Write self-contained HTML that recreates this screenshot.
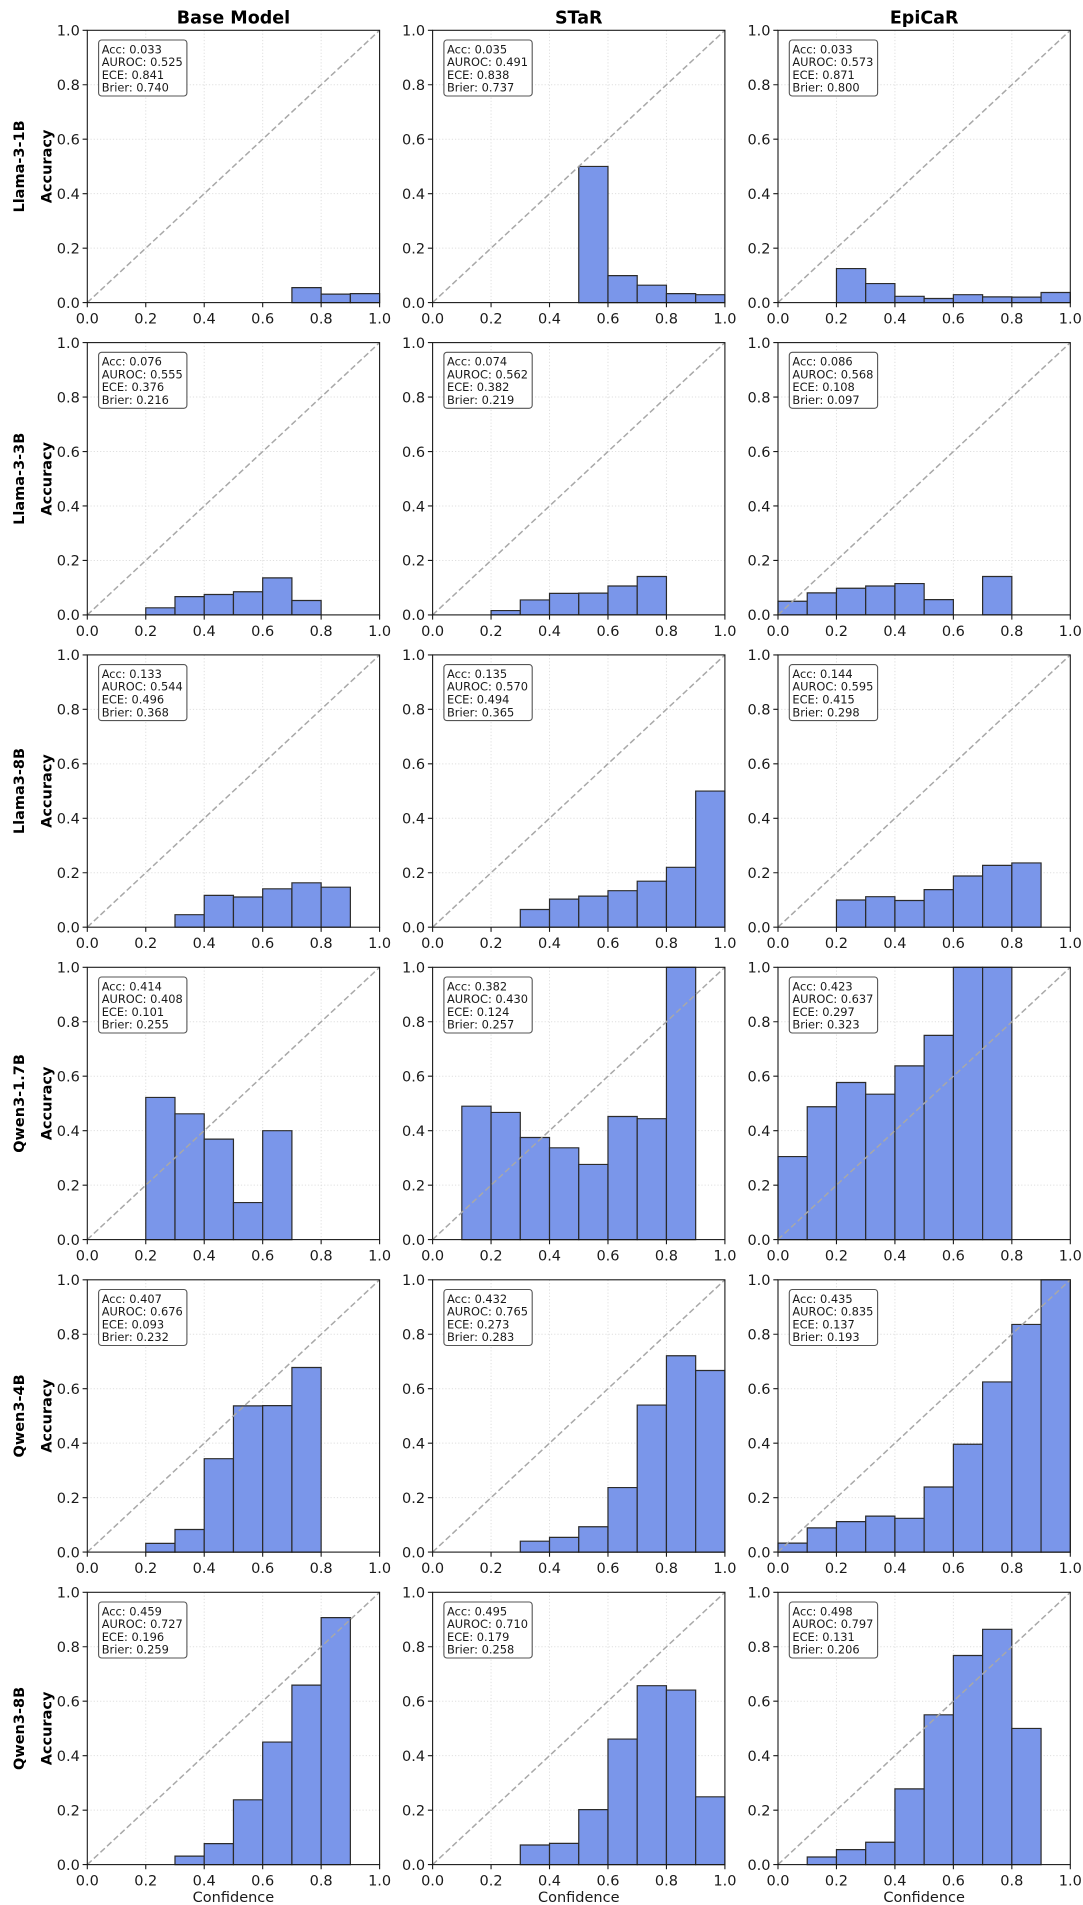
<!DOCTYPE html>
<html>
<head>
<meta charset="utf-8">
<style>
html,body{margin:0;padding:0;background:#fff;}
svg{display:block;font-family:"DejaVu Sans","Liberation Sans",sans-serif;}
.bars rect{fill:#7a96ea;stroke:#2b2b2b;stroke-width:1.2;vector-effect:non-scaling-stroke;}
.tk{font-size:14.5px;fill:#1a1a1a;}
.e{text-anchor:end;}
.m{text-anchor:middle;}
.an{font-size:11.4px;fill:#1a1a1a;}
.box{fill:#fff;stroke:#555;stroke-width:1.1;}
.ttl{font-size:17.5px;font-weight:bold;text-anchor:middle;fill:#000;}
.rl{font-size:14.5px;font-weight:bold;text-anchor:middle;fill:#000;}
.xl{font-size:14.5px;text-anchor:middle;fill:#1a1a1a;}
</style>
</head>
<body>
<svg width="1083" height="1905" viewBox="0 0 1083 1905" xmlns="http://www.w3.org/2000/svg">
<defs>
<g id="grid"><path d="M58.46 0V272.3M116.92 0V272.3M175.38 0V272.3M233.84 0V272.3M0 54.46H292.3M0 108.92H292.3M0 163.38H292.3M0 217.84H292.3" stroke="#b0b0b0" stroke-opacity=".4" stroke-width="1" stroke-dasharray="1.2,2" fill="none"/></g>
<g id="frame">
<path d="M0 272.3L292.3 0" stroke="#a8a8a8" stroke-width="1.5" stroke-dasharray="6,3" fill="none"/>
<rect width="292.3" height="272.3" fill="none" stroke="#1a1a1a" stroke-width="1.1"/>
<path d="M-4.7 0H0M-4.7 54.46H0M-4.7 108.92H0M-4.7 163.38H0M-4.7 217.84H0M-4.7 272.3H0M0 272.3V277M58.46 272.3V277M116.92 272.3V277M175.38 272.3V277M233.84 272.3V277M292.3 272.3V277" stroke="#1a1a1a" stroke-width="1.1" fill="none"/>
</g>
</defs>

<!-- Column titles -->
<text class="ttl" x="233.45" y="23.5">Base Model</text>
<text class="ttl" x="578.75" y="23.5">STaR</text>
<text class="ttl" x="924.15" y="23.5">EpiCaR</text>

<!-- Row labels -->
<text class="rl" transform="translate(24,166.45) rotate(-90)">Llama-3-1B</text>
<text class="rl" transform="translate(51.6,166.45) rotate(-90)">Accuracy</text>
<text class="rl" transform="translate(24,478.75) rotate(-90)">Llama-3-3B</text>
<text class="rl" transform="translate(51.6,478.75) rotate(-90)">Accuracy</text>
<text class="rl" transform="translate(24,791.05) rotate(-90)">Llama3-8B</text>
<text class="rl" transform="translate(51.6,791.05) rotate(-90)">Accuracy</text>
<text class="rl" transform="translate(24,1103.45) rotate(-90)">Qwen3-1.7B</text>
<text class="rl" transform="translate(51.6,1103.45) rotate(-90)">Accuracy</text>
<text class="rl" transform="translate(24,1415.95) rotate(-90)">Qwen3-4B</text>
<text class="rl" transform="translate(51.6,1415.95) rotate(-90)">Accuracy</text>
<text class="rl" transform="translate(24,1728.45) rotate(-90)">Qwen3-8B</text>
<text class="rl" transform="translate(51.6,1728.45) rotate(-90)">Accuracy</text>

<!-- Confidence labels -->
<text class="xl" x="233.45" y="1902">Confidence</text>
<text class="xl" x="578.75" y="1902">Confidence</text>
<text class="xl" x="924.15" y="1902">Confidence</text>

<!-- ===== Row 1 ===== -->
<g transform="translate(87.3,30.3)">
<use href="#grid"/>
<g class="bars" transform="translate(0,272.3) scale(29.23,-272.3)"><rect x="7" width="1" height=".055"/><rect x="8" width="1" height=".031"/><rect x="9" width="1" height=".033"/></g>
<use href="#frame"/>
<rect class="box" x="11.3" y="9.7" width="88.3" height="56" rx="3"/>
<text class="an" x="14.4" y="23">Acc: 0.033</text><text class="an" x="14.4" y="35.8">AUROC: 0.525</text><text class="an" x="14.4" y="48.6">ECE: 0.841</text><text class="an" x="14.4" y="61.4">Brier: 0.740</text>
<g class="tk"><text class="e" x="-7.5" y="277.6">0.0</text><text class="e" x="-7.5" y="223.1">0.2</text><text class="e" x="-7.5" y="168.7">0.4</text><text class="e" x="-7.5" y="114.2">0.6</text><text class="e" x="-7.5" y="59.8">0.8</text><text class="e" x="-7.5" y="5.3">1.0</text>
<text class="m" x="0" y="293.3">0.0</text><text class="m" x="58.46" y="293.3">0.2</text><text class="m" x="116.92" y="293.3">0.4</text><text class="m" x="175.38" y="293.3">0.6</text><text class="m" x="233.84" y="293.3">0.8</text><text class="m" x="292.3" y="293.3">1.0</text></g>
</g>

<g transform="translate(432.6,30.3)">
<use href="#grid"/>
<g class="bars" transform="translate(0,272.3) scale(29.23,-272.3)"><rect x="5" width="1" height=".5"/><rect x="6" width="1" height=".099"/><rect x="7" width="1" height=".064"/><rect x="8" width="1" height=".033"/><rect x="9" width="1" height=".029"/></g>
<use href="#frame"/>
<rect class="box" x="11.3" y="9.7" width="88.3" height="56" rx="3"/>
<text class="an" x="14.4" y="23">Acc: 0.035</text><text class="an" x="14.4" y="35.8">AUROC: 0.491</text><text class="an" x="14.4" y="48.6">ECE: 0.838</text><text class="an" x="14.4" y="61.4">Brier: 0.737</text>
<g class="tk"><text class="e" x="-7.5" y="277.6">0.0</text><text class="e" x="-7.5" y="223.1">0.2</text><text class="e" x="-7.5" y="168.7">0.4</text><text class="e" x="-7.5" y="114.2">0.6</text><text class="e" x="-7.5" y="59.8">0.8</text><text class="e" x="-7.5" y="5.3">1.0</text>
<text class="m" x="0" y="293.3">0.0</text><text class="m" x="58.46" y="293.3">0.2</text><text class="m" x="116.92" y="293.3">0.4</text><text class="m" x="175.38" y="293.3">0.6</text><text class="m" x="233.84" y="293.3">0.8</text><text class="m" x="292.3" y="293.3">1.0</text></g>
</g>

<g transform="translate(778,30.3)">
<use href="#grid"/>
<g class="bars" transform="translate(0,272.3) scale(29.23,-272.3)"><rect x="2" width="1" height=".125"/><rect x="3" width="1" height=".070"/><rect x="4" width="1" height=".023"/><rect x="5" width="1" height=".015"/><rect x="6" width="1" height=".029"/><rect x="7" width="1" height=".021"/><rect x="8" width="1" height=".020"/><rect x="9" width="1" height=".037"/></g>
<use href="#frame"/>
<rect class="box" x="11.3" y="9.7" width="88.3" height="56" rx="3"/>
<text class="an" x="14.4" y="23">Acc: 0.033</text><text class="an" x="14.4" y="35.8">AUROC: 0.573</text><text class="an" x="14.4" y="48.6">ECE: 0.871</text><text class="an" x="14.4" y="61.4">Brier: 0.800</text>
<g class="tk"><text class="e" x="-7.5" y="277.6">0.0</text><text class="e" x="-7.5" y="223.1">0.2</text><text class="e" x="-7.5" y="168.7">0.4</text><text class="e" x="-7.5" y="114.2">0.6</text><text class="e" x="-7.5" y="59.8">0.8</text><text class="e" x="-7.5" y="5.3">1.0</text>
<text class="m" x="0" y="293.3">0.0</text><text class="m" x="58.46" y="293.3">0.2</text><text class="m" x="116.92" y="293.3">0.4</text><text class="m" x="175.38" y="293.3">0.6</text><text class="m" x="233.84" y="293.3">0.8</text><text class="m" x="292.3" y="293.3">1.0</text></g>
</g>

<!-- ===== Row 2 ===== -->
<g transform="translate(87.3,342.6)">
<use href="#grid"/>
<g class="bars" transform="translate(0,272.3) scale(29.23,-272.3)"><rect x="2" width="1" height=".026"/><rect x="3" width="1" height=".067"/><rect x="4" width="1" height=".075"/><rect x="5" width="1" height=".085"/><rect x="6" width="1" height=".136"/><rect x="7" width="1" height=".053"/></g>
<use href="#frame"/>
<rect class="box" x="11.3" y="9.7" width="88.3" height="56" rx="3"/>
<text class="an" x="14.4" y="23">Acc: 0.076</text><text class="an" x="14.4" y="35.8">AUROC: 0.555</text><text class="an" x="14.4" y="48.6">ECE: 0.376</text><text class="an" x="14.4" y="61.4">Brier: 0.216</text>
<g class="tk"><text class="e" x="-7.5" y="277.6">0.0</text><text class="e" x="-7.5" y="223.1">0.2</text><text class="e" x="-7.5" y="168.7">0.4</text><text class="e" x="-7.5" y="114.2">0.6</text><text class="e" x="-7.5" y="59.8">0.8</text><text class="e" x="-7.5" y="5.3">1.0</text>
<text class="m" x="0" y="293.3">0.0</text><text class="m" x="58.46" y="293.3">0.2</text><text class="m" x="116.92" y="293.3">0.4</text><text class="m" x="175.38" y="293.3">0.6</text><text class="m" x="233.84" y="293.3">0.8</text><text class="m" x="292.3" y="293.3">1.0</text></g>
</g>

<g transform="translate(432.6,342.6)">
<use href="#grid"/>
<g class="bars" transform="translate(0,272.3) scale(29.23,-272.3)"><rect x="2" width="1" height=".016"/><rect x="3" width="1" height=".055"/><rect x="4" width="1" height=".079"/><rect x="5" width="1" height=".080"/><rect x="6" width="1" height=".106"/><rect x="7" width="1" height=".141"/></g>
<use href="#frame"/>
<rect class="box" x="11.3" y="9.7" width="88.3" height="56" rx="3"/>
<text class="an" x="14.4" y="23">Acc: 0.074</text><text class="an" x="14.4" y="35.8">AUROC: 0.562</text><text class="an" x="14.4" y="48.6">ECE: 0.382</text><text class="an" x="14.4" y="61.4">Brier: 0.219</text>
<g class="tk"><text class="e" x="-7.5" y="277.6">0.0</text><text class="e" x="-7.5" y="223.1">0.2</text><text class="e" x="-7.5" y="168.7">0.4</text><text class="e" x="-7.5" y="114.2">0.6</text><text class="e" x="-7.5" y="59.8">0.8</text><text class="e" x="-7.5" y="5.3">1.0</text>
<text class="m" x="0" y="293.3">0.0</text><text class="m" x="58.46" y="293.3">0.2</text><text class="m" x="116.92" y="293.3">0.4</text><text class="m" x="175.38" y="293.3">0.6</text><text class="m" x="233.84" y="293.3">0.8</text><text class="m" x="292.3" y="293.3">1.0</text></g>
</g>

<g transform="translate(778,342.6)">
<use href="#grid"/>
<g class="bars" transform="translate(0,272.3) scale(29.23,-272.3)"><rect x="0" width="1" height=".050"/><rect x="1" width="1" height=".081"/><rect x="2" width="1" height=".098"/><rect x="3" width="1" height=".106"/><rect x="4" width="1" height=".115"/><rect x="5" width="1" height=".056"/><rect x="7" width="1" height=".141"/></g>
<use href="#frame"/>
<rect class="box" x="11.3" y="9.7" width="88.3" height="56" rx="3"/>
<text class="an" x="14.4" y="23">Acc: 0.086</text><text class="an" x="14.4" y="35.8">AUROC: 0.568</text><text class="an" x="14.4" y="48.6">ECE: 0.108</text><text class="an" x="14.4" y="61.4">Brier: 0.097</text>
<g class="tk"><text class="e" x="-7.5" y="277.6">0.0</text><text class="e" x="-7.5" y="223.1">0.2</text><text class="e" x="-7.5" y="168.7">0.4</text><text class="e" x="-7.5" y="114.2">0.6</text><text class="e" x="-7.5" y="59.8">0.8</text><text class="e" x="-7.5" y="5.3">1.0</text>
<text class="m" x="0" y="293.3">0.0</text><text class="m" x="58.46" y="293.3">0.2</text><text class="m" x="116.92" y="293.3">0.4</text><text class="m" x="175.38" y="293.3">0.6</text><text class="m" x="233.84" y="293.3">0.8</text><text class="m" x="292.3" y="293.3">1.0</text></g>
</g>

<!-- ===== Row 3 ===== -->
<g transform="translate(87.3,654.9)">
<use href="#grid"/>
<g class="bars" transform="translate(0,272.3) scale(29.23,-272.3)"><rect x="3" width="1" height=".046"/><rect x="4" width="1" height=".117"/><rect x="5" width="1" height=".111"/><rect x="6" width="1" height=".141"/><rect x="7" width="1" height=".163"/><rect x="8" width="1" height=".147"/></g>
<use href="#frame"/>
<rect class="box" x="11.3" y="9.7" width="88.3" height="56" rx="3"/>
<text class="an" x="14.4" y="23">Acc: 0.133</text><text class="an" x="14.4" y="35.8">AUROC: 0.544</text><text class="an" x="14.4" y="48.6">ECE: 0.496</text><text class="an" x="14.4" y="61.4">Brier: 0.368</text>
<g class="tk"><text class="e" x="-7.5" y="277.6">0.0</text><text class="e" x="-7.5" y="223.1">0.2</text><text class="e" x="-7.5" y="168.7">0.4</text><text class="e" x="-7.5" y="114.2">0.6</text><text class="e" x="-7.5" y="59.8">0.8</text><text class="e" x="-7.5" y="5.3">1.0</text>
<text class="m" x="0" y="293.3">0.0</text><text class="m" x="58.46" y="293.3">0.2</text><text class="m" x="116.92" y="293.3">0.4</text><text class="m" x="175.38" y="293.3">0.6</text><text class="m" x="233.84" y="293.3">0.8</text><text class="m" x="292.3" y="293.3">1.0</text></g>
</g>

<g transform="translate(432.6,654.9)">
<use href="#grid"/>
<g class="bars" transform="translate(0,272.3) scale(29.23,-272.3)"><rect x="3" width="1" height=".065"/><rect x="4" width="1" height=".103"/><rect x="5" width="1" height=".114"/><rect x="6" width="1" height=".134"/><rect x="7" width="1" height=".169"/><rect x="8" width="1" height=".220"/><rect x="9" width="1" height=".5"/></g>
<use href="#frame"/>
<rect class="box" x="11.3" y="9.7" width="88.3" height="56" rx="3"/>
<text class="an" x="14.4" y="23">Acc: 0.135</text><text class="an" x="14.4" y="35.8">AUROC: 0.570</text><text class="an" x="14.4" y="48.6">ECE: 0.494</text><text class="an" x="14.4" y="61.4">Brier: 0.365</text>
<g class="tk"><text class="e" x="-7.5" y="277.6">0.0</text><text class="e" x="-7.5" y="223.1">0.2</text><text class="e" x="-7.5" y="168.7">0.4</text><text class="e" x="-7.5" y="114.2">0.6</text><text class="e" x="-7.5" y="59.8">0.8</text><text class="e" x="-7.5" y="5.3">1.0</text>
<text class="m" x="0" y="293.3">0.0</text><text class="m" x="58.46" y="293.3">0.2</text><text class="m" x="116.92" y="293.3">0.4</text><text class="m" x="175.38" y="293.3">0.6</text><text class="m" x="233.84" y="293.3">0.8</text><text class="m" x="292.3" y="293.3">1.0</text></g>
</g>

<g transform="translate(778,654.9)">
<use href="#grid"/>
<g class="bars" transform="translate(0,272.3) scale(29.23,-272.3)"><rect x="2" width="1" height=".100"/><rect x="3" width="1" height=".112"/><rect x="4" width="1" height=".098"/><rect x="5" width="1" height=".138"/><rect x="6" width="1" height=".188"/><rect x="7" width="1" height=".227"/><rect x="8" width="1" height=".236"/></g>
<use href="#frame"/>
<rect class="box" x="11.3" y="9.7" width="88.3" height="56" rx="3"/>
<text class="an" x="14.4" y="23">Acc: 0.144</text><text class="an" x="14.4" y="35.8">AUROC: 0.595</text><text class="an" x="14.4" y="48.6">ECE: 0.415</text><text class="an" x="14.4" y="61.4">Brier: 0.298</text>
<g class="tk"><text class="e" x="-7.5" y="277.6">0.0</text><text class="e" x="-7.5" y="223.1">0.2</text><text class="e" x="-7.5" y="168.7">0.4</text><text class="e" x="-7.5" y="114.2">0.6</text><text class="e" x="-7.5" y="59.8">0.8</text><text class="e" x="-7.5" y="5.3">1.0</text>
<text class="m" x="0" y="293.3">0.0</text><text class="m" x="58.46" y="293.3">0.2</text><text class="m" x="116.92" y="293.3">0.4</text><text class="m" x="175.38" y="293.3">0.6</text><text class="m" x="233.84" y="293.3">0.8</text><text class="m" x="292.3" y="293.3">1.0</text></g>
</g>

<!-- ===== Row 4 ===== -->
<g transform="translate(87.3,967.3)">
<use href="#grid"/>
<g class="bars" transform="translate(0,272.3) scale(29.23,-272.3)"><rect x="2" width="1" height=".522"/><rect x="3" width="1" height=".462"/><rect x="4" width="1" height=".369"/><rect x="5" width="1" height=".136"/><rect x="6" width="1" height=".4"/></g>
<use href="#frame"/>
<rect class="box" x="11.3" y="9.7" width="88.3" height="56" rx="3"/>
<text class="an" x="14.4" y="23">Acc: 0.414</text><text class="an" x="14.4" y="35.8">AUROC: 0.408</text><text class="an" x="14.4" y="48.6">ECE: 0.101</text><text class="an" x="14.4" y="61.4">Brier: 0.255</text>
<g class="tk"><text class="e" x="-7.5" y="277.6">0.0</text><text class="e" x="-7.5" y="223.1">0.2</text><text class="e" x="-7.5" y="168.7">0.4</text><text class="e" x="-7.5" y="114.2">0.6</text><text class="e" x="-7.5" y="59.8">0.8</text><text class="e" x="-7.5" y="5.3">1.0</text>
<text class="m" x="0" y="293.3">0.0</text><text class="m" x="58.46" y="293.3">0.2</text><text class="m" x="116.92" y="293.3">0.4</text><text class="m" x="175.38" y="293.3">0.6</text><text class="m" x="233.84" y="293.3">0.8</text><text class="m" x="292.3" y="293.3">1.0</text></g>
</g>

<g transform="translate(432.6,967.3)">
<use href="#grid"/>
<g class="bars" transform="translate(0,272.3) scale(29.23,-272.3)"><rect x="1" width="1" height=".490"/><rect x="2" width="1" height=".467"/><rect x="3" width="1" height=".375"/><rect x="4" width="1" height=".337"/><rect x="5" width="1" height=".276"/><rect x="6" width="1" height=".452"/><rect x="7" width="1" height=".444"/><rect x="8" width="1" height="1"/></g>
<use href="#frame"/>
<rect class="box" x="11.3" y="9.7" width="88.3" height="56" rx="3"/>
<text class="an" x="14.4" y="23">Acc: 0.382</text><text class="an" x="14.4" y="35.8">AUROC: 0.430</text><text class="an" x="14.4" y="48.6">ECE: 0.124</text><text class="an" x="14.4" y="61.4">Brier: 0.257</text>
<g class="tk"><text class="e" x="-7.5" y="277.6">0.0</text><text class="e" x="-7.5" y="223.1">0.2</text><text class="e" x="-7.5" y="168.7">0.4</text><text class="e" x="-7.5" y="114.2">0.6</text><text class="e" x="-7.5" y="59.8">0.8</text><text class="e" x="-7.5" y="5.3">1.0</text>
<text class="m" x="0" y="293.3">0.0</text><text class="m" x="58.46" y="293.3">0.2</text><text class="m" x="116.92" y="293.3">0.4</text><text class="m" x="175.38" y="293.3">0.6</text><text class="m" x="233.84" y="293.3">0.8</text><text class="m" x="292.3" y="293.3">1.0</text></g>
</g>

<g transform="translate(778,967.3)">
<use href="#grid"/>
<g class="bars" transform="translate(0,272.3) scale(29.23,-272.3)"><rect x="0" width="1" height=".305"/><rect x="1" width="1" height=".488"/><rect x="2" width="1" height=".577"/><rect x="3" width="1" height=".534"/><rect x="4" width="1" height=".638"/><rect x="5" width="1" height=".75"/><rect x="6" width="1" height="1"/><rect x="7" width="1" height="1"/></g>
<use href="#frame"/>
<rect class="box" x="11.3" y="9.7" width="88.3" height="56" rx="3"/>
<text class="an" x="14.4" y="23">Acc: 0.423</text><text class="an" x="14.4" y="35.8">AUROC: 0.637</text><text class="an" x="14.4" y="48.6">ECE: 0.297</text><text class="an" x="14.4" y="61.4">Brier: 0.323</text>
<g class="tk"><text class="e" x="-7.5" y="277.6">0.0</text><text class="e" x="-7.5" y="223.1">0.2</text><text class="e" x="-7.5" y="168.7">0.4</text><text class="e" x="-7.5" y="114.2">0.6</text><text class="e" x="-7.5" y="59.8">0.8</text><text class="e" x="-7.5" y="5.3">1.0</text>
<text class="m" x="0" y="293.3">0.0</text><text class="m" x="58.46" y="293.3">0.2</text><text class="m" x="116.92" y="293.3">0.4</text><text class="m" x="175.38" y="293.3">0.6</text><text class="m" x="233.84" y="293.3">0.8</text><text class="m" x="292.3" y="293.3">1.0</text></g>
</g>

<!-- ===== Row 5 ===== -->
<g transform="translate(87.3,1279.8)">
<use href="#grid"/>
<g class="bars" transform="translate(0,272.3) scale(29.23,-272.3)"><rect x="2" width="1" height=".032"/><rect x="3" width="1" height=".083"/><rect x="4" width="1" height=".343"/><rect x="5" width="1" height=".537"/><rect x="6" width="1" height=".538"/><rect x="7" width="1" height=".678"/></g>
<use href="#frame"/>
<rect class="box" x="11.3" y="9.7" width="88.3" height="56" rx="3"/>
<text class="an" x="14.4" y="23">Acc: 0.407</text><text class="an" x="14.4" y="35.8">AUROC: 0.676</text><text class="an" x="14.4" y="48.6">ECE: 0.093</text><text class="an" x="14.4" y="61.4">Brier: 0.232</text>
<g class="tk"><text class="e" x="-7.5" y="277.6">0.0</text><text class="e" x="-7.5" y="223.1">0.2</text><text class="e" x="-7.5" y="168.7">0.4</text><text class="e" x="-7.5" y="114.2">0.6</text><text class="e" x="-7.5" y="59.8">0.8</text><text class="e" x="-7.5" y="5.3">1.0</text>
<text class="m" x="0" y="293.3">0.0</text><text class="m" x="58.46" y="293.3">0.2</text><text class="m" x="116.92" y="293.3">0.4</text><text class="m" x="175.38" y="293.3">0.6</text><text class="m" x="233.84" y="293.3">0.8</text><text class="m" x="292.3" y="293.3">1.0</text></g>
</g>

<g transform="translate(432.6,1279.8)">
<use href="#grid"/>
<g class="bars" transform="translate(0,272.3) scale(29.23,-272.3)"><rect x="3" width="1" height=".040"/><rect x="4" width="1" height=".054"/><rect x="5" width="1" height=".093"/><rect x="6" width="1" height=".237"/><rect x="7" width="1" height=".540"/><rect x="8" width="1" height=".721"/><rect x="9" width="1" height=".667"/></g>
<use href="#frame"/>
<rect class="box" x="11.3" y="9.7" width="88.3" height="56" rx="3"/>
<text class="an" x="14.4" y="23">Acc: 0.432</text><text class="an" x="14.4" y="35.8">AUROC: 0.765</text><text class="an" x="14.4" y="48.6">ECE: 0.273</text><text class="an" x="14.4" y="61.4">Brier: 0.283</text>
<g class="tk"><text class="e" x="-7.5" y="277.6">0.0</text><text class="e" x="-7.5" y="223.1">0.2</text><text class="e" x="-7.5" y="168.7">0.4</text><text class="e" x="-7.5" y="114.2">0.6</text><text class="e" x="-7.5" y="59.8">0.8</text><text class="e" x="-7.5" y="5.3">1.0</text>
<text class="m" x="0" y="293.3">0.0</text><text class="m" x="58.46" y="293.3">0.2</text><text class="m" x="116.92" y="293.3">0.4</text><text class="m" x="175.38" y="293.3">0.6</text><text class="m" x="233.84" y="293.3">0.8</text><text class="m" x="292.3" y="293.3">1.0</text></g>
</g>

<g transform="translate(778,1279.8)">
<use href="#grid"/>
<g class="bars" transform="translate(0,272.3) scale(29.23,-272.3)"><rect x="0" width="1" height=".033"/><rect x="1" width="1" height=".089"/><rect x="2" width="1" height=".112"/><rect x="3" width="1" height=".132"/><rect x="4" width="1" height=".124"/><rect x="5" width="1" height=".239"/><rect x="6" width="1" height=".396"/><rect x="7" width="1" height=".625"/><rect x="8" width="1" height=".836"/><rect x="9" width="1" height="1"/></g>
<use href="#frame"/>
<rect class="box" x="11.3" y="9.7" width="88.3" height="56" rx="3"/>
<text class="an" x="14.4" y="23">Acc: 0.435</text><text class="an" x="14.4" y="35.8">AUROC: 0.835</text><text class="an" x="14.4" y="48.6">ECE: 0.137</text><text class="an" x="14.4" y="61.4">Brier: 0.193</text>
<g class="tk"><text class="e" x="-7.5" y="277.6">0.0</text><text class="e" x="-7.5" y="223.1">0.2</text><text class="e" x="-7.5" y="168.7">0.4</text><text class="e" x="-7.5" y="114.2">0.6</text><text class="e" x="-7.5" y="59.8">0.8</text><text class="e" x="-7.5" y="5.3">1.0</text>
<text class="m" x="0" y="293.3">0.0</text><text class="m" x="58.46" y="293.3">0.2</text><text class="m" x="116.92" y="293.3">0.4</text><text class="m" x="175.38" y="293.3">0.6</text><text class="m" x="233.84" y="293.3">0.8</text><text class="m" x="292.3" y="293.3">1.0</text></g>
</g>

<!-- ===== Row 6 ===== -->
<g transform="translate(87.3,1592.3)">
<use href="#grid"/>
<g class="bars" transform="translate(0,272.3) scale(29.23,-272.3)"><rect x="3" width="1" height=".031"/><rect x="4" width="1" height=".077"/><rect x="5" width="1" height=".238"/><rect x="6" width="1" height=".450"/><rect x="7" width="1" height=".659"/><rect x="8" width="1" height=".907"/></g>
<use href="#frame"/>
<rect class="box" x="11.3" y="9.7" width="88.3" height="56" rx="3"/>
<text class="an" x="14.4" y="23">Acc: 0.459</text><text class="an" x="14.4" y="35.8">AUROC: 0.727</text><text class="an" x="14.4" y="48.6">ECE: 0.196</text><text class="an" x="14.4" y="61.4">Brier: 0.259</text>
<g class="tk"><text class="e" x="-7.5" y="277.6">0.0</text><text class="e" x="-7.5" y="223.1">0.2</text><text class="e" x="-7.5" y="168.7">0.4</text><text class="e" x="-7.5" y="114.2">0.6</text><text class="e" x="-7.5" y="59.8">0.8</text><text class="e" x="-7.5" y="5.3">1.0</text>
<text class="m" x="0" y="293.3">0.0</text><text class="m" x="58.46" y="293.3">0.2</text><text class="m" x="116.92" y="293.3">0.4</text><text class="m" x="175.38" y="293.3">0.6</text><text class="m" x="233.84" y="293.3">0.8</text><text class="m" x="292.3" y="293.3">1.0</text></g>
</g>

<g transform="translate(432.6,1592.3)">
<use href="#grid"/>
<g class="bars" transform="translate(0,272.3) scale(29.23,-272.3)"><rect x="3" width="1" height=".072"/><rect x="4" width="1" height=".078"/><rect x="5" width="1" height=".202"/><rect x="6" width="1" height=".461"/><rect x="7" width="1" height=".657"/><rect x="8" width="1" height=".641"/><rect x="9" width="1" height=".249"/></g>
<use href="#frame"/>
<rect class="box" x="11.3" y="9.7" width="88.3" height="56" rx="3"/>
<text class="an" x="14.4" y="23">Acc: 0.495</text><text class="an" x="14.4" y="35.8">AUROC: 0.710</text><text class="an" x="14.4" y="48.6">ECE: 0.179</text><text class="an" x="14.4" y="61.4">Brier: 0.258</text>
<g class="tk"><text class="e" x="-7.5" y="277.6">0.0</text><text class="e" x="-7.5" y="223.1">0.2</text><text class="e" x="-7.5" y="168.7">0.4</text><text class="e" x="-7.5" y="114.2">0.6</text><text class="e" x="-7.5" y="59.8">0.8</text><text class="e" x="-7.5" y="5.3">1.0</text>
<text class="m" x="0" y="293.3">0.0</text><text class="m" x="58.46" y="293.3">0.2</text><text class="m" x="116.92" y="293.3">0.4</text><text class="m" x="175.38" y="293.3">0.6</text><text class="m" x="233.84" y="293.3">0.8</text><text class="m" x="292.3" y="293.3">1.0</text></g>
</g>

<g transform="translate(778,1592.3)">
<use href="#grid"/>
<g class="bars" transform="translate(0,272.3) scale(29.23,-272.3)"><rect x="1" width="1" height=".028"/><rect x="2" width="1" height=".055"/><rect x="3" width="1" height=".082"/><rect x="4" width="1" height=".278"/><rect x="5" width="1" height=".550"/><rect x="6" width="1" height=".768"/><rect x="7" width="1" height=".864"/><rect x="8" width="1" height=".5"/></g>
<use href="#frame"/>
<rect class="box" x="11.3" y="9.7" width="88.3" height="56" rx="3"/>
<text class="an" x="14.4" y="23">Acc: 0.498</text><text class="an" x="14.4" y="35.8">AUROC: 0.797</text><text class="an" x="14.4" y="48.6">ECE: 0.131</text><text class="an" x="14.4" y="61.4">Brier: 0.206</text>
<g class="tk"><text class="e" x="-7.5" y="277.6">0.0</text><text class="e" x="-7.5" y="223.1">0.2</text><text class="e" x="-7.5" y="168.7">0.4</text><text class="e" x="-7.5" y="114.2">0.6</text><text class="e" x="-7.5" y="59.8">0.8</text><text class="e" x="-7.5" y="5.3">1.0</text>
<text class="m" x="0" y="293.3">0.0</text><text class="m" x="58.46" y="293.3">0.2</text><text class="m" x="116.92" y="293.3">0.4</text><text class="m" x="175.38" y="293.3">0.6</text><text class="m" x="233.84" y="293.3">0.8</text><text class="m" x="292.3" y="293.3">1.0</text></g>
</g>

</svg>
</body>
</html>
